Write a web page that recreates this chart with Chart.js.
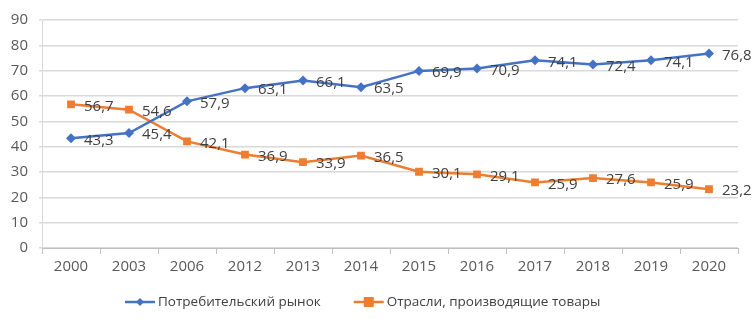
<!DOCTYPE html>
<html>
<head>
<meta charset="utf-8">
<script src="https://cdn.jsdelivr.net/npm/chart.js@4"></script>
<style>
  html, body { margin: 0; padding: 0; background: #fff; }
  #wrap { width: 756px; height: 330px; }
</style>
</head>
<body>
<div id="wrap"><canvas id="chart" width="756" height="330"></canvas></div>
<script>
const years = ['2000', '2003', '2006', '2012', '2013', '2014', '2015', '2016', '2017', '2018', '2019', '2020'];
const consumerMarket = [43.3, 45.4, 57.9, 63.1, 66.1, 63.5, 69.9, 70.9, 74.1, 72.4, 74.1, 76.8];
const goodsIndustries = [56.7, 54.6, 42.1, 36.9, 33.9, 36.5, 30.1, 29.1, 25.9, 27.6, 25.9, 23.2];
const seriesNames = ['Потребительский рынок', 'Отрасли, производящие товары'];

const BLUE = '#4472C4';
const ORANGE = '#ED7D31';
const FONT = '"Open Sans", "Noto Sans", sans-serif';

// value labels to the right of each point
const valueLabels = {
    id: 'valueLabels',
    afterDatasetsDraw(chart) {
        const ctx = chart.ctx;
        ctx.save();
        ctx.font = '15px ' + FONT;
        ctx.fillStyle = '#404040';
        ctx.textAlign = 'left';
        ctx.textBaseline = 'middle';
        chart.data.datasets.forEach((ds, i) => {
            chart.getDatasetMeta(i).data.forEach((pt, j) => {
                const txt = ds.data[j].toFixed(1).replace('.', ',');
                ctx.fillText(txt, pt.x + 13, pt.y + 2);
            });
        });
        ctx.restore();
    }
};

// Excel-style legend: short line with the marker in the middle
const lineLegend = {
    id: 'lineLegend',
    afterDraw(chart) {
        const ctx = chart.ctx;
        const y = 302;
        let x = 125;
        ctx.save();
        ctx.font = '13.5px ' + FONT;
        ctx.textBaseline = 'middle';
        chart.data.datasets.forEach((ds, i) => {
            ctx.strokeStyle = ds.borderColor;
            ctx.fillStyle = ds.borderColor;
            ctx.lineWidth = 2.5;
            ctx.beginPath(); ctx.moveTo(x, y); ctx.lineTo(x + 30, y); ctx.stroke();
            const cx = x + 15;
            if (ds.pointStyle === 'rectRot') {
                ctx.beginPath();
                ctx.moveTo(cx, y - 4); ctx.lineTo(cx + 4, y); ctx.lineTo(cx, y + 4); ctx.lineTo(cx - 4, y);
                ctx.closePath(); ctx.fill();
            } else {
                ctx.fillRect(cx - 5, y - 5, 10, 10);
            }
            ctx.fillStyle = '#404040';
            ctx.fillText(ds.label, x + 33, y);
            x += 33 + ctx.measureText(ds.label).width + 33;
        });
        ctx.restore();
    }
};

const ctx = document.getElementById('chart');

new Chart(ctx, {
    type: 'line',
    data: {
        labels: years,
        datasets: [{
            label: seriesNames[0],
            data: consumerMarket,
            borderColor: BLUE,
            backgroundColor: BLUE,
            borderWidth: 2.5,
            pointStyle: 'rectRot',
            pointRadius: 5,
            pointBorderWidth: 0,
            tension: 0
        }, {
            label: seriesNames[1],
            data: goodsIndustries,
            borderColor: ORANGE,
            backgroundColor: ORANGE,
            borderWidth: 2.5,
            pointStyle: 'rect',
            pointRadius: 5.5,
            pointBorderWidth: 0,
            tension: 0
        }]
    },
    options: {
        responsive: false,
        animation: false,
        layout: { padding: { top: 14, right: 18, left: 0, bottom: 46 } },
        scales: {
            x: {
                offset: true,
                grid: {
                    offset: true,
                    drawOnChartArea: false,
                    drawTicks: true,
                    tickLength: 6,
                    color: '#bfbfbf'
                },
                border: { color: '#bfbfbf', width: 1 },
                ticks: { color: '#595959', font: { family: FONT, size: 15 }, padding: 4 },
                afterFit: s => { s.height = 36; }
            },
            y: {
                min: 0,
                max: 90,
                grid: { color: '#d9d9d9', lineWidth: 1.5, drawTicks: true, tickLength: 3 },
                border: { display: true, color: '#d9d9d9' },
                ticks: { stepSize: 10, color: '#595959', font: { family: FONT, size: 15 }, padding: 11 },
                afterFit: s => { s.width = 42; }
            }
        },
        plugins: {
            tooltip: { enabled: false },
            legend: { display: false }
        }
    },
    plugins: [valueLabels, lineLegend]
});
</script>
</body>
</html>
